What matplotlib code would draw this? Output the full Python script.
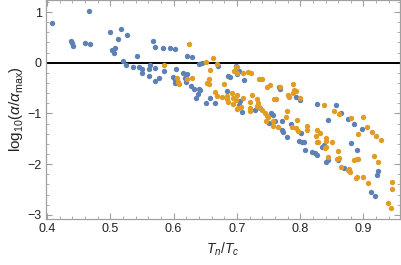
import matplotlib
matplotlib.use("Agg")
import matplotlib.pyplot as plt
from matplotlib.ticker import MultipleLocator

plt.rcParams['font.family'] = ['Liberation Sans', 'DejaVu Sans']
plt.rcParams['mathtext.fontset'] = 'custom'
plt.rcParams['mathtext.rm'] = 'Liberation Sans'
plt.rcParams['mathtext.it'] = 'Liberation Sans:italic'

blue_x = [0.4074, 0.4659, 0.4379, 0.4390, 0.4411, 0.4600, 0.4679, 0.4995, 0.5169, 0.5122,
          0.5269, 0.5074, 0.5032, 0.5058, 0.5422, 0.5201, 0.5248, 0.5363, 0.5453, 0.5501,
          0.5506, 0.5611, 0.5632, 0.5711, 0.5611, 0.5774, 0.5711, 0.5679, 0.5711, 0.5833,
          0.5848, 0.5948, 0.6027, 0.6216, 0.6295, 0.6038, 0.5995, 0.6022, 0.6017, 0.6153,
          0.6207, 0.6180, 0.6196, 0.6280, 0.6327, 0.6397, 0.6390, 0.6359, 0.6406, 0.6444,
          0.6697, 0.6986, 0.6855, 0.6891, 0.7033, 0.6997, 0.7117, 0.6848, 0.6512, 0.6659,
          0.6575, 0.7049, 0.7028, 0.7081, 0.7286, 0.7365, 0.7539, 0.7575, 0.7665, 0.6417,
          0.7686, 0.7929, 0.8002, 0.7708, 0.7850, 0.8013, 0.7708, 0.7733, 0.7787, 0.8270,
          0.8434, 0.8561, 0.8645, 0.8750, 0.8850, 0.8972, 0.7981, 0.8024, 0.8060, 0.8076,
          0.8191, 0.8234, 0.8261, 0.8340, 0.8381, 0.8434, 0.8403, 0.8602, 0.8697, 0.8803,
          0.8893, 0.9114, 0.9177, 0.9234, 0.9213, 0.7512, 0.7602]
blue_y = [0.777, 1.026, 0.434, 0.383, 0.335, 0.394, 0.375, 0.611, 0.671, 0.473,
          0.552, 0.290, 0.250, 0.197, 0.132, 0.034, -0.045, -0.079, -0.091, -0.130,
          -0.197, -0.130, -0.045, -0.099, -0.262, -0.302, -0.361, 0.434, 0.316, 0.290,
          -0.164, 0.296, 0.270, 0.138, 0.112, -0.124, -0.276, -0.341, -0.394, -0.209,
          -0.223, -0.308, -0.387, -0.460, -0.525, -0.525, -0.617, -0.702, -0.032, -0.012,
          -0.065, -0.065, -0.256, -0.282, -0.164, -0.229, -0.341, -0.558, -0.789, -0.789,
          -0.696, -0.761, -0.834, -0.966, -0.933, -0.899, -0.986, -1.032, -0.473, -0.538,
          -0.513, -0.682, -0.736, -1.156, -1.209, -1.381, -1.327, -1.373, -1.471, -0.815,
          -1.136, -0.834, -0.992, -1.110, -1.215, -1.314, -1.538, -1.558, -1.570, -1.722,
          -1.755, -1.787, -1.821, -1.657, -1.623, -1.919, -1.964, -1.919, -2.083, -1.590,
          -1.722, -2.544, -2.635, -2.136, -2.215, -1.195, -1.144]

orange_x = [0.5853, 0.6248, 0.6507, 0.6627, 0.6690, 0.6580, 0.6049, 0.6074, 0.6090, 0.6207,
            0.6286, 0.6523, 0.6555, 0.6555, 0.6801, 0.6959, 0.7006, 0.6997, 0.7092, 0.7171,
            0.7218, 0.7344, 0.7401, 0.7480, 0.7523, 0.6649, 0.6681, 0.6769, 0.6839, 0.6839,
            0.6864, 0.6923, 0.6997, 0.6934, 0.6986, 0.6938, 0.7013, 0.6997, 0.7101, 0.7234,
            0.7207, 0.7313, 0.7329, 0.7313, 0.7344, 0.7392, 0.7444, 0.7471, 0.7496, 0.7460,
            0.7566, 0.7654, 0.7207, 0.7686, 0.7891, 0.7902, 0.7929, 0.7891, 0.7997, 0.7803,
            0.7823, 0.7787, 0.7771, 0.7945, 0.7875, 0.7929, 0.7970, 0.8103, 0.8112, 0.8371,
            0.8539, 0.8608, 0.8803, 0.8992, 0.9051, 0.8908, 0.9130, 0.9193, 0.9276, 0.8270,
            0.8313, 0.8403, 0.8250, 0.8261, 0.8286, 0.8403, 0.8403, 0.8387, 0.8498, 0.8444,
            0.8602, 0.8586, 0.8613, 0.8645, 0.8750, 0.8775, 0.8787, 0.8855, 0.8893, 0.8908,
            0.8893, 0.8882, 0.8997, 0.9076, 0.9161, 0.9224, 0.9445, 0.9445, 0.9382, 0.9434,
            0.6986, 0.7566, 0.7060, 0.7207, 0.7583, 0.7618]
orange_y = [-0.045, 0.363, 0.014, 0.099, -0.032, -0.144, -0.308, -0.375, -0.420, -0.327,
            -0.302, -0.394, -0.414, -0.327, -0.414, -0.158, -0.197, -0.091, -0.197, -0.178,
            -0.209, -0.321, -0.321, -0.473, -0.440, -0.578, -0.657, -0.671, -0.657, -0.716,
            -0.775, -0.604, -0.637, -0.702, -0.736, -0.815, -0.888, -0.907, -0.702, -0.637,
            -0.769, -0.722, -0.789, -0.854, -0.880, -0.933, -0.998, -1.051, -1.077, -1.150,
            -1.243, -1.274, -0.953, -0.485, -0.420, -0.538, -0.558, -0.604, -0.696, -0.637,
            -0.671, -0.947, -1.065, -1.130, -1.262, -1.294, -1.341, -1.327, -1.249, -0.834,
            -0.953, -1.012, -1.097, -1.077, -1.262, -1.412, -1.361, -1.446, -1.525, -1.327,
            -1.381, -1.495, -1.452, -1.558, -1.570, -1.540, -1.657, -1.688, -1.570, -1.854,
            -1.742, -1.899, -1.886, -2.063, -2.116, -2.103, -2.162, -1.919, -1.905, -1.899,
            -2.249, -2.280, -2.260, -2.367, -1.840, -1.964, -2.359, -2.491, -2.773, -2.872,
            -0.080, -1.144, -0.868, -0.899, -0.722, -0.722]

fig = plt.figure(figsize=(4.01, 2.65), dpi=100)
ax = fig.add_axes([46/401, 46/265, 354/401, 219/265])

orange = '#E19C24'
blue = '#5E81B5'
ax.scatter(blue_x, blue_y, s=15, color=blue, linewidths=0, zorder=3)
ax.scatter(orange_x, orange_y, s=15, color=orange, linewidths=0, zorder=3)
ax.axhline(0, color='black', lw=1.4, zorder=2)

ax.set_xlim(0.3984, 0.9577)
ax.set_ylim(-3.083, 1.237)
ax.set_xticks([0.4, 0.5, 0.6, 0.7, 0.8, 0.9])
ax.set_xticklabels(['0.4', '0.5', '0.6', '0.7', '0.8', '0.9'])
ax.set_yticks([-3, -2, -1, 0, 1])
ax.set_yticklabels(['\u22123', '\u22122', '\u22121', '0', '1'])
ax.xaxis.set_minor_locator(MultipleLocator(0.02))
ax.yaxis.set_minor_locator(MultipleLocator(0.2))

frame_col = '#a0a0a0'
for sp in ax.spines.values():
    sp.set_color(frame_col)
    sp.set_linewidth(0.9)
ax.tick_params(which='both', direction='in', color=frame_col, top=True, right=True,
               labelsize=9, labelcolor='#222222', pad=3)
ax.tick_params(which='major', length=4, width=0.8)
ax.tick_params(which='minor', length=2, width=0.6)

ax.set_xlabel(r'$T_n/T_c$', fontsize=10, color='#222222', labelpad=4)
ax.set_ylabel(r'$\mathrm{log}_{10}\left(\alpha/\alpha_{\mathrm{max}}\right)$', fontsize=11,
              color='#222222', labelpad=1)

fig.savefig('out.png', dpi=100)
